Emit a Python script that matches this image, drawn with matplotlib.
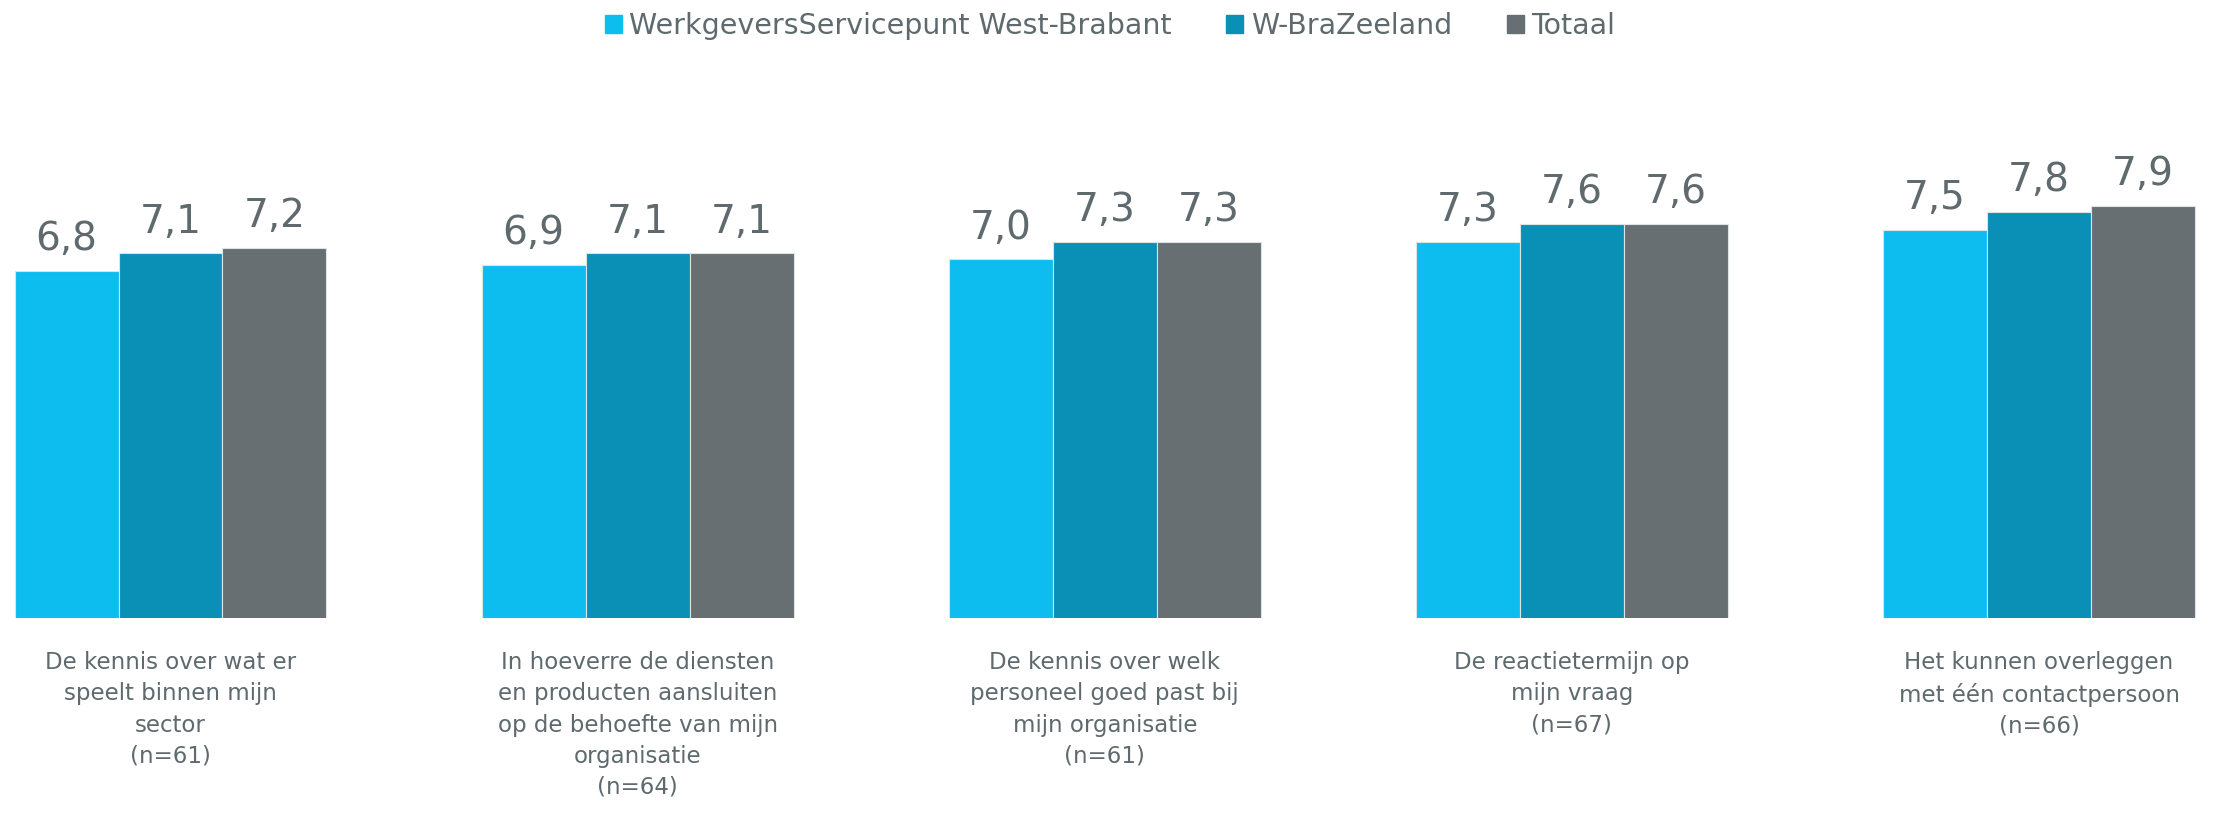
import matplotlib.pyplot as plt
import numpy as np
from matplotlib.patches import Patch

# data
categories = [
    'De kennis over wat er\nspeelt binnen mijn\nsector\n(n=61)',
    'In hoeverre de diensten\nen producten aansluiten\nop de behoefte van mijn\norganisatie\n(n=64)',
    'De kennis over welk\npersoneel goed past bij\nmijn organisatie\n(n=61)',
    'De reactietermijn op\nmijn vraag\n(n=67)',
    'Het kunnen overleggen\nmet één contactpersoon\n(n=66)',
]
series_names = ['WerkgeversServicepunt West-Brabant', 'W-BraZeeland', 'Totaal']
wsp_wb = [6.8, 6.9, 7.0, 7.3, 7.5]
wbz = [7.1, 7.1, 7.3, 7.6, 7.8]
totaal = [7.2, 7.1, 7.3, 7.6, 7.9]

colors = ['#0DBDEF', '#0A8FB6', '#676F72']
txt = '#5F6A6E'

plt.rcParams['font.family'] = ['DejaVu Sans']

fig = plt.figure(figsize=(22.24, 8.14), dpi=100)
ax = fig.add_axes([0, 0.2408, 1, 0.658])

x = np.arange(len(categories))
w = 0.2225
for i, (vals, c) in enumerate(zip([wsp_wb, wbz, totaal], colors)):
    bars = ax.bar(x + (i - 1) * w, vals, w, color=c, edgecolor='#dde4e6', linewidth=0.8)
    for b, v in zip(bars, vals):
        ax.annotate(f'{v:.1f}'.replace('.', ','), (b.get_x() + b.get_width() / 2, v),
                    xytext=(0, 15), textcoords='offset points',
                    ha='center', va='baseline', fontsize=28, color=txt)

ax.set_ylim(0.92, 10)
ax.set_xlim(-0.365, 4.396)
ax.set_yticks([])
ax.set_xticks(x)
ax.set_xticklabels(categories, fontsize=16.5, color=txt, linespacing=1.45)
ax.tick_params(axis='x', length=0, pad=24)
for s in ax.spines.values():
    s.set_visible(False)

handles = [Patch(color=c) for c in colors]
fig.legend(handles, series_names, loc='upper center', bbox_to_anchor=(0.499, 1.01),
           ncol=3, frameon=False, fontsize=20.5, labelcolor=txt,
           handlelength=0.6, handleheight=0.6, handletextpad=0.25, columnspacing=1.93,
           borderaxespad=0.3)

fig.savefig('out.png', dpi=100)
